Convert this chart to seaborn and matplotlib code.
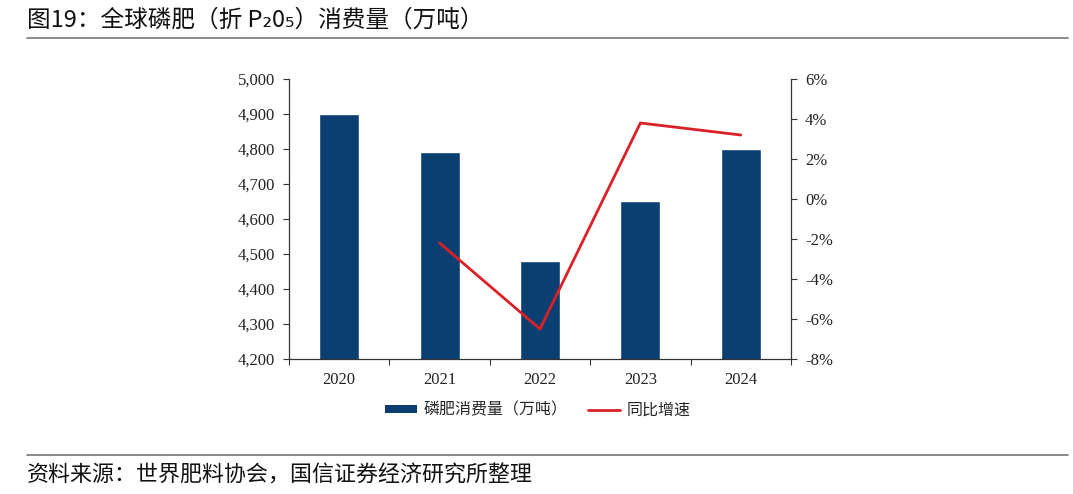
import numpy as np
import pandas as pd
import seaborn as sns
import matplotlib
matplotlib.use("Agg")
import matplotlib.pyplot as plt
from matplotlib.patches import Patch
from matplotlib.lines import Line2D
from matplotlib.ticker import FuncFormatter, FixedLocator

years = ["2020", "2021", "2022", "2023", "2024"]
consumption = [4900, 4790, 4480, 4650, 4800]
growth_years = ["2021", "2022", "2023", "2024"]
growth = [-2.2, -6.5, 3.8, 3.2]

title = "图19：全球磷肥（折 P₂0₅）消费量（万吨）"
source = "资料来源：世界肥料协会，国信证券经济研究所整理"
bar_label = "磷肥消费量（万吨）"
line_label = "同比增速"

sns.set_theme(style="white")
plt.rcParams['font.family'] = ['Noto Sans CJK SC', 'DejaVu Sans']

bar_color = "#0b3f72"
line_color = "#dc2027"
serif = ['Liberation Serif', 'DejaVu Serif']

fig = plt.figure(figsize=(10.73, 4.94), dpi=100)
ax = fig.add_axes([289/1073, 1-359/494, (791-289)/1073, (359-79)/494])

df = pd.DataFrame({"year": years, "value": consumption})
sns.barplot(data=df, x="year", y="value", ax=ax, color=bar_color, width=0.4,
            saturation=1, order=years)
ax.set_ylim(4200, 5000)
ax.set_yticks(np.arange(4200, 5001, 100))
ax.yaxis.set_major_formatter(FuncFormatter(lambda v, p: f"{int(v):,}"))
ax.set_xlabel("")
ax.set_ylabel("")
ax.set_xlim(-0.5, len(years) - 0.5)

ax2 = ax.twinx()
gdf = pd.DataFrame({"pos": [years.index(y) for y in growth_years], "g": growth})
sns.lineplot(data=gdf, x="pos", y="g", ax=ax2, color=line_color, linewidth=2)
ax2.set_ylim(-8, 6)
ax2.set_yticks(np.arange(-8, 7, 2))
ax2.yaxis.set_major_formatter(FuncFormatter(lambda v, p: f"{int(v)}%"))
ax2.set_xlabel("")
ax2.set_ylabel("")
ax2.set_xlim(-0.5, len(years) - 0.5)

for a in (ax, ax2):
    for s in a.spines.values():
        s.set_color("#333333")
        s.set_linewidth(0.9)
    a.spines['top'].set_visible(False)
ax.spines['right'].set_visible(False)
ax2.spines['left'].set_visible(False)
ax2.spines['bottom'].set_visible(False)

ax.tick_params(axis='y', which='major', direction='out', length=4, width=0.8,
               color="#333333", labelsize=12, labelcolor="#222222", pad=6, left=True)
ax2.tick_params(axis='y', which='major', direction='out', length=4, width=0.8,
                color="#333333", labelsize=12, labelcolor="#222222", pad=6, right=True)
ax.tick_params(axis='x', which='major', length=0, labelsize=12, labelcolor="#222222", pad=9)
ax.xaxis.set_minor_locator(FixedLocator(np.arange(-0.5, len(years), 1.0)))
ax.tick_params(axis='x', which='minor', direction='out', length=4, width=0.8,
               color="#333333", bottom=True)
for lab in ax.get_xticklabels() + ax.get_yticklabels() + ax2.get_yticklabels():
    lab.set_fontfamily(serif)

fig.text(27/1073, 1-20/494, title, fontsize=17, va='center', ha='left', color="#111111",
         family=['Noto Sans CJK SC', 'DejaVu Sans'])
fig.add_artist(Line2D([27/1073, 1068/1073], [1-38/494, 1-38/494], color="#777777", lw=1.2))
fig.add_artist(Line2D([27/1073, 1068/1073], [1-455/494, 1-455/494], color="#777777", lw=1.2))
fig.text(27/1073, 1-476/494, source, fontsize=15.8, va='center', ha='left', color="#111111")

handles = [Patch(facecolor=bar_color, edgecolor='none'),
           Line2D([0], [0], color=line_color, lw=2)]
leg = fig.legend(handles, [bar_label, line_label], loc='center',
                 bbox_to_anchor=(538/1073, 1-410/494), ncol=2, frameon=False,
                 fontsize=11.5, handlelength=2.0, handleheight=0.45,
                 columnspacing=1.3, handletextpad=0.4)

fig.savefig("out.png", dpi=100, facecolor="white")
